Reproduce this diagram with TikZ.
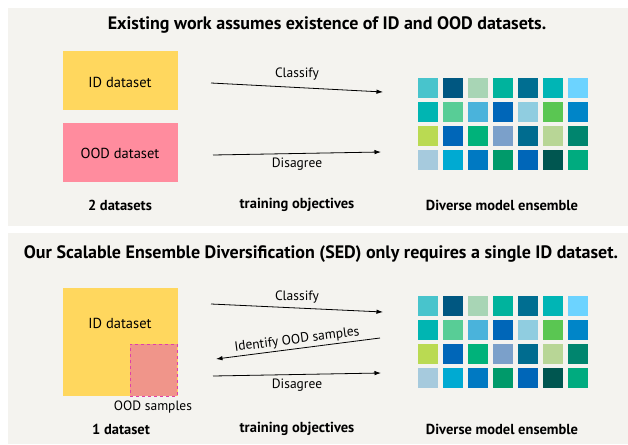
\documentclass[tikz,border=0pt]{standalone}
\usepackage{fontspec}
\setmainfont{PT Sans}
\usetikzlibrary{arrows.meta}

\definecolor{panelbg}{HTML}{F4F3EF}
\definecolor{idyellow}{HTML}{FFD75E}
\definecolor{oodpink}{HTML}{FF8C9E}
\definecolor{oodsalmon}{HTML}{F0958A}
\definecolor{oodedge}{HTML}{E040A8}

% ensemble palette, row by row
\definecolor{c11}{HTML}{48C4CC}\definecolor{c12}{HTML}{005781}\definecolor{c13}{HTML}{A8D5B5}
\definecolor{c14}{HTML}{00B39D}\definecolor{c15}{HTML}{006E91}\definecolor{c16}{HTML}{00B5B5}
\definecolor{c17}{HTML}{6CD3FF}
\definecolor{c21}{HTML}{00B5B2}\definecolor{c22}{HTML}{58CD96}\definecolor{c23}{HTML}{4AB3DB}
\definecolor{c24}{HTML}{0066B8}\definecolor{c25}{HTML}{90CDE0}\definecolor{c26}{HTML}{5AC652}
\definecolor{c27}{HTML}{0085C8}
\definecolor{c31}{HTML}{BADA52}\definecolor{c32}{HTML}{0066B8}\definecolor{c33}{HTML}{00B27A}
\definecolor{c34}{HTML}{7BA0CA}\definecolor{c35}{HTML}{006C8F}\definecolor{c36}{HTML}{B8D696}
\definecolor{c37}{HTML}{00856E}
\definecolor{c41}{HTML}{A6CADD}\definecolor{c42}{HTML}{00AAD2}\definecolor{c43}{HTML}{0079C2}
\definecolor{c44}{HTML}{009A6A}\definecolor{c45}{HTML}{0066B8}\definecolor{c46}{HTML}{005650}
\definecolor{c47}{HTML}{00AB7F}

\begin{document}
\begin{tikzpicture}[x=1pt,y=-1pt,
  panel/.style={fill=panelbg,draw=none},
  headline/.style={font=\bfseries\fontsize{18}{21}\selectfont},
  caption/.style={font=\bfseries\fontsize{14.5}{17}\selectfont},
  lbl/.style={font=\fontsize{13.5}{16}\selectfont},
  boxlbl/.style={font=\fontsize{14.5}{17}\selectfont},
  databox/.style={draw=none,inner sep=0pt},
  cell/.style={minimum size=20pt,inner sep=0pt,draw=none},
  objarrow/.style={-{Latex[length=6.5pt,width=4.5pt]},line width=0.8pt},
]
\useasboundingbox (0,0) rectangle (628,444);
\fill[white] (0,0) rectangle (628,444);

% two panels
\fill[panel] (8,8) rectangle (628,226);
\fill[panel] (8,233) rectangle (628,444);

% ---------- upper panel ----------
\node[headline] (title1) at (327,25) {Existing work assumes existence of ID and OOD datasets.};

\node[databox,fill=idyellow,minimum width=115pt,minimum height=59pt] (idbox) at (120,80.5) {};
\node[boxlbl] (idlbl) at (120,82) {ID dataset};
\node[databox,fill=oodpink,minimum width=115pt,minimum height=59pt] (oodbox) at (120,152.5) {};
\node[boxlbl] (oodlbl) at (120,153) {OOD dataset};

\coordinate (cls1s) at (211,83);
\coordinate (cls1e) at (383,92);
\draw[objarrow] (cls1s) -- (cls1e);
\node[lbl] (cls1) at (297,74) {Classify};

\coordinate (dis1s) at (213,155);
\coordinate (dis1e) at (381,152);
\draw[objarrow] (dis1s) -- (dis1e);
\node[lbl] (dis1) at (297,164) {Disagree};

\foreach \r in {1,...,4}
  \foreach \c in {1,...,7}
    \node[cell,fill=c\r\c] (a-\r-\c) at ({428+25*(\c-1)},{88+24*(\r-1)}) {};

\node[caption] (cap1a) at (120,205) {2 datasets};
\node[caption] (cap1b) at (297,205) {training objectives};
\node[caption] (cap1c) at (502,205) {Diverse model ensemble};

% ---------- lower panel ----------
\node[headline] (title2) at (321,254) {Our Scalable Ensemble Diversification (SED) only requires a single ID dataset.};

\node[databox,fill=idyellow,minimum width=115pt,minimum height=108pt] (idbig) at (120,342) {};
\node[boxlbl] (idlbl2) at (120,323) {ID dataset};
\node[databox,fill=oodsalmon,draw=oodedge,dashed,line width=0.7pt,
      minimum width=47pt,minimum height=52pt] (oodsub) at (153.5,370) {};
\node[lbl] (oodsmp) at (153,407) {OOD samples};

\coordinate (cls2s) at (211,304);
\coordinate (cls2e) at (383,312);
\draw[objarrow] (cls2s) -- (cls2e);
\node[lbl] (cls2) at (297,297) {Classify};

\coordinate (idfs) at (380,338);
\coordinate (idfe) at (216,359);
\draw[objarrow] (idfs) -- (idfe);
\node[lbl,rotate=7.3] (idf) at (297,340) {Identify OOD samples};

\coordinate (dis2s) at (213,376);
\coordinate (dis2e) at (381,373);
\draw[objarrow] (dis2s) -- (dis2e);
\node[lbl] (dis2) at (297,385) {Disagree};

\foreach \r in {1,...,4}
  \foreach \c in {1,...,7}
    \node[cell,fill=c\r\c] (b-\r-\c) at ({428+25*(\c-1)},{306+24*(\r-1)}) {};

\node[caption] (cap2a) at (121,429) {1 dataset};
\node[caption] (cap2b) at (297,429) {training objectives};
\node[caption] (cap2c) at (502,429) {Diverse model ensemble};
\end{tikzpicture}
\end{document}
